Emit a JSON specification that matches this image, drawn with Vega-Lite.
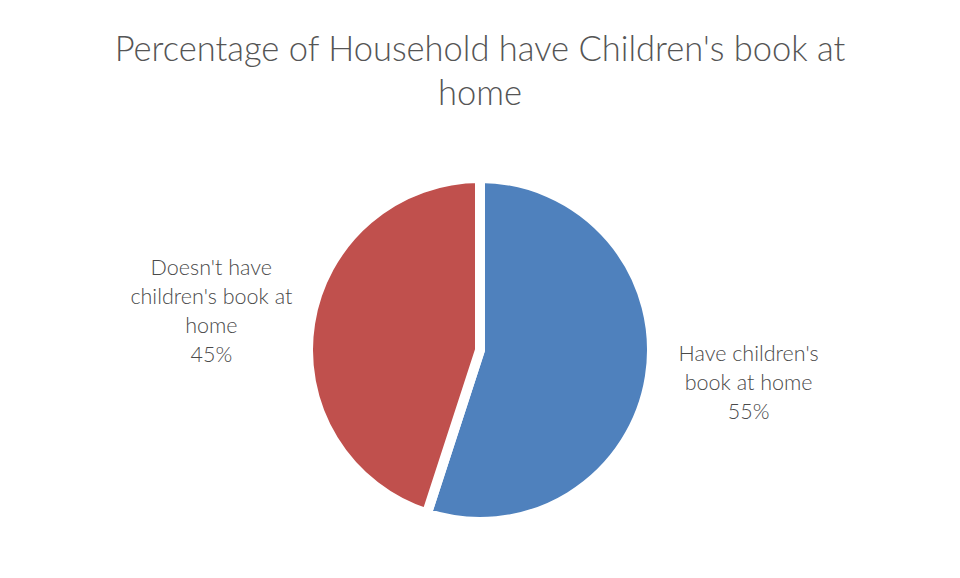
{
  "$schema": "https://vega.github.io/schema/vega-lite/v6.json",
  "width": 960,
  "height": 578,
  "autosize": {"type": "fit", "contains": "padding"},
  "padding": {"top": 32, "left": 0, "right": 0, "bottom": 0},
  "background": "white",
  "title": {
    "text": ["Percentage of Household have Children's book at", "home"],
    "fontSize": 34.5,
    "font": "Lato",
    "fontWeight": 300,
    "color": "#555555",
    "lineHeight": 44,
    "anchor": "middle",
    "offset": 10
  },
  "data": {
    "values": [
      {"category": "Have children's book at home", "share": 55, "order": 1, "label": ["Have children's", "book at home", "55%"]},
      {"category": "Doesn't have children's book at home", "share": 45, "order": 2, "label": ["Doesn't have", "children's book at", "home", "45%"]}
    ]
  },
  "encoding": {
    "theta": {"field": "share", "type": "quantitative", "stack": true},
    "order": {"field": "order", "type": "quantitative"}
  },
  "layer": [
    {
      "mark": {"type": "arc", "outerRadius": 172, "stroke": "white", "strokeWidth": 10, "strokeJoin": "round"},
      "encoding": {
        "color": {
          "field": "category",
          "type": "nominal",
          "scale": {"domain": ["Have children's book at home", "Doesn't have children's book at home"], "range": ["#4F81BD", "#C0504D"]},
          "legend": null
        }
      }
    },
    {
      "mark": {"type": "text", "radius": 272, "dy": -38, "fontSize": 21.5, "font": "Lato", "fontWeight": 300, "color": "#4a4a4a", "lineHeight": 29, "align": "center", "baseline": "middle"},
      "encoding": {
        "text": {"field": "label"}
      }
    }
  ],
  "config": {"view": {"stroke": null}}
}
